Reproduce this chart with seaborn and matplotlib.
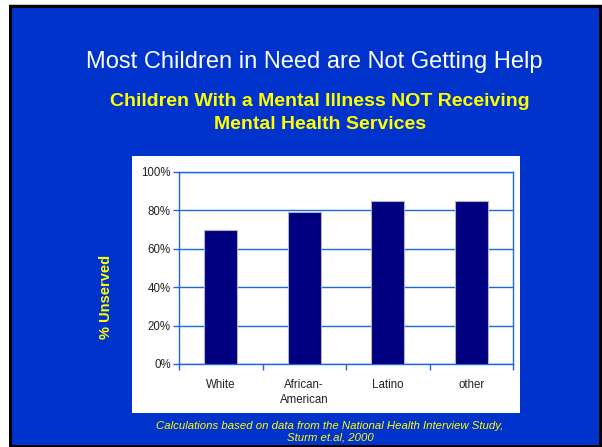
import pandas as pd
import matplotlib
matplotlib.use('Agg')
import matplotlib.pyplot as plt
import matplotlib.patches as patches
import seaborn as sns

# Chart data
groups = ['White', 'African-\nAmerican', 'Latino', 'other']
unserved = [70, 79, 85, 85]

df = pd.DataFrame({'Group': groups, 'Unserved': unserved})

sns.set_style('white')
plt.rcParams['font.family'] = ['Liberation Sans', 'DejaVu Sans']

W, H = 602, 447
fig = plt.figure(figsize=(W / 100, H / 100), dpi=100)
fig.patch.set_facecolor('white')

def box(x0, y0, x1, y1, color):
    # pixel coords from top-left
    fig.patches.append(patches.Rectangle((x0 / W, 1 - y1 / H), (x1 - x0) / W, (y1 - y0) / H,
                                         transform=fig.transFigure, facecolor=color,
                                         edgecolor='none', zorder=-5))

box(9, 4, 602, 5, '#c8c8c8')
box(9, 5, 602, 447, 'black')
box(12, 8, 599, 445, '#0033CC')
box(132, 156, 520, 413, 'white')

ax = fig.add_axes([179 / W, 1 - 364 / H, (513 - 179) / W, (364 - 172) / H])
ax.set_zorder(2)
sns.barplot(data=df, x='Group', y='Unserved', color='#000080', edgecolor='#b0b0c8',
            linewidth=0.8, width=0.4, saturation=1, ax=ax, zorder=3)

line_blue = '#1a6ad6'
ax.set_ylim(0, 100)
ax.set_xlim(-0.5, 3.5)
ax.set_yticks(range(0, 101, 20))
ax.set_yticklabels([f'{v}%' for v in range(0, 101, 20)], fontsize=8.3, color='#222222')
ax.yaxis.grid(True, color=line_blue, linewidth=1)
ax.set_axisbelow(True)
ax.tick_params(axis='y', length=4, color=line_blue, width=1, left=True, pad=2)
ax.set_xticks(range(4))
ax.set_xticklabels(groups, fontsize=8.3, color='#222222', linespacing=1.3)
ax.tick_params(axis='x', length=0, pad=11)
ax.set_xticks([-0.5, 0.5, 1.5, 2.5, 3.5], minor=True)
ax.tick_params(axis='x', which='minor', length=4, color=line_blue, width=1, bottom=True)
for s in ax.spines.values():
    s.set_color(line_blue)
    s.set_linewidth(1)
ax.set_xlabel('')
ax.set_ylabel('')
ax.set_facecolor('white')

fig.text(314 / W, 1 - 62 / H, 'Most Children in Need are Not Getting Help',
         ha='center', va='center', color='white', fontsize=17)
fig.text(320 / W, 1 - 113 / H, 'Children With a Mental Illness NOT Receiving\nMental Health Services',
         ha='center', va='center', color='#FFFF00', fontsize=14, fontweight='bold',
         linespacing=1.45)
fig.text(106 / W, 1 - 297 / H, '% Unserved', rotation=90, ha='center', va='center',
         color='#FFFF00', fontsize=10.5, fontweight='bold')
fig.text(330 / W, 1 - 432 / H,
         'Calculations based on data from the National Health Interview Study,\nSturm et.al, 2000',
         ha='center', va='center', color='#FFFF00', fontsize=8.2, style='italic',
         linespacing=1.25)

fig.savefig('out.png', dpi=100, facecolor=fig.get_facecolor())
